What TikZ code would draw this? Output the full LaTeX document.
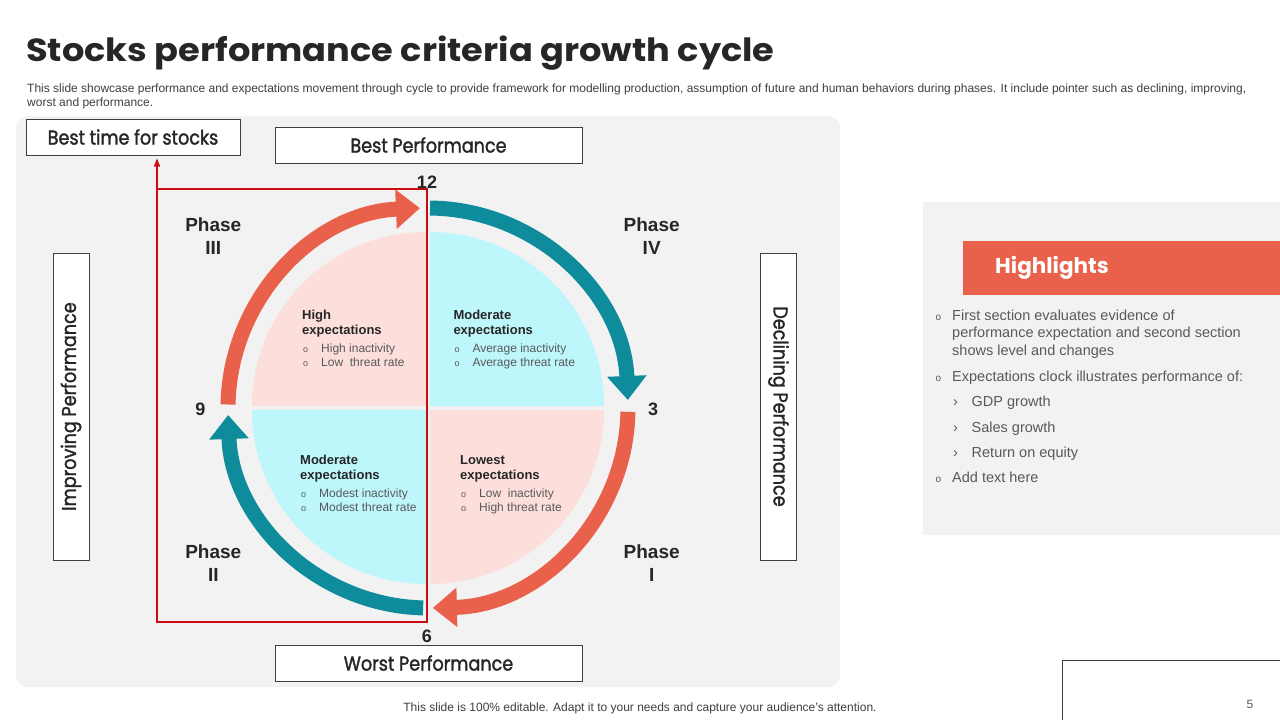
\documentclass[tikz,border=0pt]{standalone}
\usepackage{fontspec}
\setmainfont{Liberation Sans}
\newfontfamily\popfont{Poppins}
\newfontfamily\poptitle[FakeStretch=1.1]{Poppins}
\newfontfamily\popsemi[FakeBold=1.5, FakeStretch=0.88]{Poppins}
\usetikzlibrary{arrows.meta, positioning}

\definecolor{coral}{HTML}{E9604B}
\definecolor{tealring}{HTML}{0E8C9C}
\definecolor{pinkq}{HTML}{FCDFDB}
\definecolor{cyanq}{HTML}{BDF6FB}
\definecolor{panelgray}{HTML}{F2F2F2}
\definecolor{ink}{HTML}{262626}
\definecolor{softgray}{HTML}{595959}
\definecolor{framegray}{HTML}{3F3F3F}
\definecolor{guidered}{HTML}{CC0A14}

\newcommand{\bulo}{\makebox[19pt][l]{\hspace{1pt}\fontsize{9}{9}\selectfont o}}

\begin{document}
\begin{tikzpicture}[x=1pt, y=-1pt,
  lblbox/.style={draw=framegray, line width=1pt, fill=white, inner sep=0pt,
    font=\popsemi\fontsize{20}{24}\selectfont, text=ink},
  ring/.style={line width=15pt},
  headtip/.style={-{Triangle[length=24pt, width=38pt]}},
  phase/.style={font=\bfseries\fontsize{19}{23.3}\selectfont, text=ink,
    align=center, anchor=north, inner sep=0pt},
  num/.style={font=\bfseries\fontsize{18}{20}\selectfont, text=ink, anchor=base, inner sep=0pt},
  qhead/.style={font=\bfseries\fontsize{13}{15}\selectfont, text=ink, anchor=base west, inner sep=0pt},
  qitem/.style={font=\fontsize{12}{14}\selectfont, text=softgray, anchor=base west, inner sep=0pt},
  hitem/.style={font=\fontsize{14.5}{17.5}\selectfont, text=softgray, anchor=base west, inner sep=0pt},
  hbul/.style={font=\fontsize{10}{12}\selectfont, text=softgray, anchor=base west, inner sep=0pt},
  guide/.style={draw=guidered, line width=1.3pt}
]
\fill[white] (0,0) rectangle (1280,720);
\useasboundingbox (0,0) rectangle (1280,720);

% title
\node[anchor=base west, inner sep=0pt, font=\poptitle\bfseries\fontsize{32}{36}\selectfont, text=ink]
  (T) at (26,61.7) {Stocks performance criteria growth cycle};
\node[anchor=north west, inner sep=0pt, align=left, font=\fontsize{12}{14}\selectfont, text=framegray]
  (S) at (27,83.5) {This slide showcase performance and expectations movement through cycle to provide framework for modelling production, assumption of future and human behaviors during phases. It include pointer such as declining, improving,\\worst and performance.};

% left panel
\fill[panelgray, rounded corners=12pt] (16,116) rectangle (840,687);

% quadrants
\coordinate (C) at (428,408);
\fill[pinkq] (426,406) -- ++(-180:174) arc[start angle=-180, end angle=-90, radius=174] -- cycle;
\fill[cyanq] (430,406) -- ++(-90:174) arc[start angle=-90, end angle=0, radius=174] -- cycle;
\fill[cyanq] (426,410) -- ++(90:174) arc[start angle=90, end angle=180, radius=174] -- cycle;
\fill[pinkq] (430,410) -- ++(0:174) arc[start angle=0, end angle=90, radius=174] -- cycle;

% cycle arrows
\draw[ring, coral, headtip] (C) ++(-179:200) arc[start angle=-179, end angle=-92.3, radius=200];
\draw[ring, tealring, headtip] (C) ++(-89.4:200) arc[start angle=-89.4, end angle=-2.3, radius=200];
\draw[ring, coral, headtip] (C) ++(1.1:200) arc[start angle=1.1, end angle=88.6, radius=200];
\draw[ring, tealring, headtip] (C) ++(91.4:200) arc[start angle=91.4, end angle=178, radius=200];

% boxes
\node[lblbox, minimum width=214pt, minimum height=36pt] (B1) at (133,137) {Best time for stocks};
\node[lblbox, minimum width=307pt, minimum height=36pt] (B2) at (428.5,145) {Best Performance};
\node[lblbox, minimum width=307pt, minimum height=36pt] (B3) at (428.5,663) {Worst Performance};
\node[lblbox, minimum width=307pt, minimum height=36pt, rotate=90] (B4) at (71,406.5) {Improving Performance};
\node[lblbox, minimum width=307pt, minimum height=36pt, rotate=-90] (B5) at (778.5,406.5) {Declining Performance};

% red guide
\coordinate (G1) at (157,622);
\coordinate (G2) at (157,189);
\coordinate (G3) at (427,189);
\coordinate (G4) at (427,622);
\draw[guide] (G1) -- (G2) -- (G3) -- (G4) -- cycle;
\draw[guide, -{Triangle[length=8pt, width=6pt]}, shorten >=3pt] (G2) -- (G2 |- B1.south);

% clock numbers and phases
\node[num] (N12) at (427,188.5) {12};
\node[num] (N3) at (653,415.5) {3};
\node[num] (N6) at (427,642) {6};
\node[num] (N9) at (200.5,415.5) {9};
\node[phase] (P3) at (213.3,217.3) {Phase\\III};
\node[phase] (P4) at (651.7,217.3) {Phase\\IV};
\node[phase] (P2) at (213.3,544.7) {Phase\\II};
\node[phase] (P1) at (651.7,544.7) {Phase\\I};

% quadrant texts
\foreach \n/\qx/\qy/\qa/\qb/\qc in {
    A/302/319.3/High/High inactivity/Low\ \ threat rate,
    B/453.3/319.3/Moderate/Average inactivity/Average threat rate,
    C/300/464.3/Moderate/Modest inactivity/Modest threat rate,
    D/460/464.3/Lowest/Low\ \ inactivity/High threat rate}{
  \node[qhead] (\n1) at (\qx,\qy) {\qa};
  \node[qhead] (\n2) at (\qx,\qy+15) {expectations};
  \node[qitem] (\n3) at (\qx,\qy+33) {\bulo\qb};
  \node[qitem] (\n4) at (\qx,\qy+46.7) {\bulo\qc};
}

% highlights
\fill[panelgray] (923,202) rectangle (1280,535);
\node[fill=coral, anchor=north west, minimum height=54pt, text width=253pt, inner xsep=32pt,
  align=left, font=\popfont\bfseries\fontsize{21.5}{26}\selectfont, text=white] (H) at (963,241) {Highlights};
\node[hitem] (I1) at (952,320) {First section evaluates evidence of};
\node[hitem] (I2) at (952,337.5) {performance expectation and second section};
\node[hitem] (I3) at (952,355) {shows level and changes};
\node[hitem] (I4) at (952,381.5) {Expectations clock illustrates performance of:};
\node[hitem] (I5) at (971.5,406.5) {GDP growth};
\node[hitem] (I6) at (971.5,432) {Sales growth};
\node[hitem] (I7) at (971.5,457.5) {Return on equity};
\node[hitem] (I8) at (952,482.5) {Add text here};
\foreach \n/\y in {1/320, 4/381.5, 8/482.5}
  \node[hbul] (O\n) at (935.5,\y) {o};
\foreach \n/\y in {5/406.5, 6/432, 7/457.5}
  \node[hitem] (R\n) at (953,\y) {›};

% footer
\node[anchor=base, inner sep=0pt, font=\fontsize{12}{14}\selectfont, text=framegray]
  (F) at (640,711.5) {This slide is 100\% editable. Adapt it to your needs and capture your audience's attention.};
\coordinate (K1) at (1062,720);
\coordinate (K2) at (1062,660);
\coordinate (K3) at (1280,660);
\draw[framegray, line width=1pt] (K1) -- (K2) -- (K3);
\node[anchor=base, inner sep=0pt, font=\fontsize{12}{14}\selectfont, text=softgray] (PG) at (1250,708) {5};
\end{tikzpicture}
\end{document}
